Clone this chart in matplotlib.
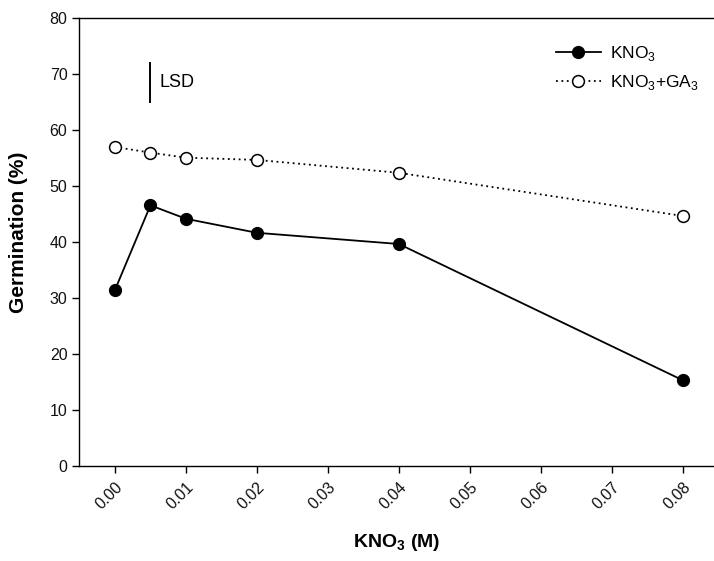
import numpy as np
import matplotlib.pyplot as plt

plt.rcParams['font.family'] = ['Liberation Sans', 'DejaVu Sans']
plt.rcParams['mathtext.fontset'] = 'custom'
plt.rcParams['mathtext.rm'] = 'Liberation Sans'
plt.rcParams['mathtext.bf'] = 'Liberation Sans:bold'

# KNO3 concentration (M) and germination (%)
conc = [0.0, 0.005, 0.01, 0.02, 0.04, 0.08]
germ_kno3 = [31.4, 46.5, 44.1, 41.6, 39.6, 15.3]
germ_kno3_ga3 = [56.9, 55.9, 55.0, 54.6, 52.3, 44.6]

# LSD bar: x position, bottom and top
lsd_x = 0.005
lsd_lo, lsd_hi = 65.0, 71.8

xticks = [0.00, 0.01, 0.02, 0.03, 0.04, 0.05, 0.06, 0.07, 0.08]
yticks = [0, 10, 20, 30, 40, 50, 60, 70, 80]

fig = plt.figure(figsize=(7.14, 5.61), dpi=100)
ax = fig.add_axes([0.111, 0.1693, 0.889, 0.7995])

ax.plot(conc, germ_kno3, color='black', lw=1.3, marker='o', ms=8.5,
        mfc='black', mec='black', label=r'KNO$_3$')
ax.plot(conc, germ_kno3_ga3, color='black', lw=1.3, ls=(0, (1, 2)),
        marker='o', ms=8.5, mfc='white', mec='black', mew=1.1,
        label=r'KNO$_3$+GA$_3$')

ax.plot([lsd_x, lsd_x], [lsd_lo, lsd_hi], color='black', lw=1.4)
ax.text(lsd_x + 0.0013, (lsd_lo + lsd_hi) / 2, 'LSD', fontsize=13,
        va='center', ha='left')

ax.set_xlim(-0.00503, 0.0844)
ax.set_ylim(0, 80)
ax.set_xticks(xticks)
ax.set_xticklabels([f'{v:.2f}' for v in xticks], rotation=45,
                   ha='right', rotation_mode='anchor')
ax.set_yticks(yticks)
ax.tick_params(labelsize=11.5, direction='out', length=5, width=1,
               labelcolor='#111111')
ax.tick_params(axis='x', pad=5)

ax.spines['right'].set_visible(False)
for s in ['left', 'bottom', 'top']:
    ax.spines[s].set_linewidth(1.0)

ax.set_xlabel(r'$\mathbf{KNO_3}$ (M)', fontsize=14, fontweight='bold')
ax.set_ylabel('Germination (%)', fontsize=15, fontweight='bold')
ax.xaxis.set_label_coords(0.5, -0.147)
ax.yaxis.set_label_coords(-0.08, 0.52)

leg = ax.legend(loc='upper right', bbox_to_anchor=(1.0, 0.975),
                frameon=False, fontsize=12.5, handlelength=2.6,
                labelspacing=0.55, handletextpad=0.5)

fig.savefig('out.png', dpi=100)
